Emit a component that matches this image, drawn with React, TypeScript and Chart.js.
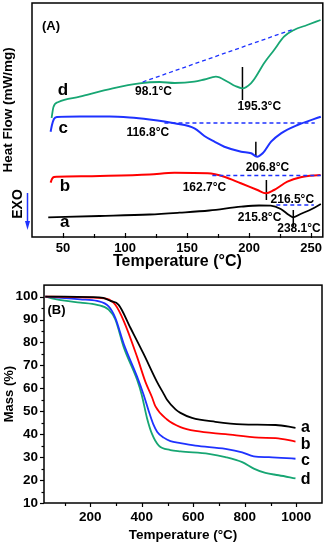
import React, { useEffect, useRef } from "react";
import { Chart, registerables } from "chart.js";
Chart.register(...registerables);

// ---------- Panel A (DSC) ----------
const dscTicks = [50, 100, 150, 200, 250];
const dscMinorTicks = [75, 125, 175, 225];

const dscA_T = [38.1, 79.6, 119.8, 143.9, 168.0, 193.7, 208.1, 217.5, 225.6, 232.2, 235.7, 241.6, 250.7, 257.9];
const dscA_HF = [19.7, 21, 22.5, 24.3, 26.5, 30.3, 31.5, 31.3, 28, 22, 19.7, 23, 28, 33];

const dscB_T = [40.0, 41.1, 42.7, 45.1, 79.6, 119.8, 139.9, 166.6, 180.0, 193.4, 206.8, 213.5, 220.2, 230.9, 241.6, 257.7];
const dscB_HF = [54.3, 58, 60, 60.3, 61, 62.5, 64.3, 63.7, 60.3, 53.7, 47, 43.7, 47, 55.3, 59.7, 62];

const dscC_T = [40.0, 41.1, 42.7, 45.1, 63.6, 87.6, 103.7, 119.8, 131.8, 139.9, 156.0, 164.0, 172.1, 180.1, 193.7, 201.7, 206.5, 211.0, 217.8, 225.8, 239.1, 257.9];
const dscC_HF = [105.3, 112, 118, 120, 120.5, 120.5, 119.5, 117.5, 115.5, 113.7, 108.7, 101, 95.3, 90.3, 85.3, 83.7, 80.3, 83.7, 95.3, 103.7, 112, 120.3];

const dscD_T = [40.8, 42.3, 46.3, 63.5, 90.1, 111.7, 127.9, 139.9, 155.9, 164.0, 173.3, 182.7, 188.9, 194.7, 201.5, 205.5, 212.1, 220.2, 228.2, 236.2, 246.9, 257.7];
const dscD_HF = [119, 130, 135, 140.3, 148.7, 153.7, 155, 154, 155.3, 157.5, 160.3, 155.3, 151, 148.7, 153.7, 160.3, 173.7, 187, 200.3, 207, 212, 217];

// baselines (dashed) : [T start, T end], [HF start, HF end]
const baseA_T = [222, 252.3];
const baseA_HF = [32, 32];
const baseB_T = [170.4, 257.9];
const baseB_HF = [61.5, 61.5];
const baseC_T = [131.8, 253];
const baseC_HF = [114, 114];
const baseD_T = [114.2, 236.2];
const baseD_HF = [155, 208];

// peak markers: temperature, [HF low, HF high]
const markA_T = 235.7;
const markA_HF = [10.3, 27];
const markB_T = 214;
const markB_HF = [37, 57];
const markC_T = 205.5;
const markC_HF = [80.3, 95.3];
const markD_T = 194.7;
const markD_HF = [137, 170];

const curveLetters = ["d", "c", "b", "a"];
const curveLetterT = [49.9, 50.1, 51.5, 51.3];
const curveLetterHF = [147, 108.7, 51, 14.3];

const tempLabels = ["98.1°C", "195.3°C", "116.8°C", "206.8°C", "162.7°C", "216.5°C", "215.8°C", "238.1°C"];
const tempLabelT = [123, 208.3, 118.4, 214.8, 164, 234.9, 208.5, 240.3];
const tempLabelHF = [145, 130, 104.3, 69.7, 49.3, 37.7, 19.7, 8.7];

// ---------- Panel B (TGA) ----------
const tgaXTicks = [200, 400, 600, 800, 1000];
const tgaXMinor = [100, 300, 500, 700, 900];
const tgaYTicks = [10, 20, 30, 40, 50, 60, 70, 80, 90, 100];
const tgaYMinor = [15, 25, 35, 45, 55, 65, 75, 85, 95];

const tgaA_T = [25, 100, 200, 250, 278, 310, 355.6, 407, 459, 485, 498, 531, 550, 595, 686, 790, 920, 997];
const tgaA_M = [100, 100, 99.8, 99.4, 98.1, 96.4, 86.4, 75, 62.8, 57.6, 55, 50.8, 49.3, 47.1, 45.4, 44.3, 44, 42.8];

const tgaB_T = [25, 100, 200, 265, 297, 330, 382, 414, 440, 453, 498, 550, 608, 725, 855, 920, 997];
const tgaB_M = [100, 99.9, 99.6, 99, 96.4, 89.3, 73.6, 62.8, 56, 52.1, 46.4, 43.1, 41.4, 40, 38.5, 38.3, 36.8];

const tgaC_T = [25, 100, 161, 226, 271, 297, 330, 382, 407, 427, 444, 460, 485, 511, 550, 608, 725, 790, 835, 894, 997];
const tgaC_M = [100, 99.3, 98.8, 98.1, 95.7, 90.7, 79.3, 65, 57.2, 50, 44.5, 41, 38.5, 37, 36.1, 35, 33.6, 32.1, 30.3, 30, 29.3];

const tgaD_T = [25, 60, 100, 161, 226, 271, 297, 330, 382, 400, 420, 440, 466, 511, 550, 660, 725, 790, 835, 880, 932, 997];
const tgaD_M = [100, 99, 98.2, 97.4, 96.4, 94.3, 90, 77.8, 63.6, 57, 47.1, 40, 35, 33.1, 32.5, 31.4, 30, 27.8, 25, 23.1, 22.1, 20.7];

const tgaLetterT = 1036;
const tgaLetterM = [42.8, 35.4, 28.6, 20.4];

const BLACK = "#000000";
const RED = "#ff0000";
const BLUE = "#1e32ff";
const GREEN = "#17a673";
const FONT = "'Liberation Sans', Arial, sans-serif";

const zip = (xs: number[], ys: number[]) => xs.map((x, i) => ({ x, y: ys[i] }));

const curve = (label: string, xs: number[], ys: number[], color: string, w = 1.8) => ({
  label,
  data: zip(xs, ys),
  borderColor: color,
  backgroundColor: color,
  borderWidth: w,
  pointRadius: 0,
  cubicInterpolationMode: "monotone" as const,
  fill: false,
});

const dashed = (xs: number[], ys: number[]) => ({
  label: "baseline",
  data: zip(xs, ys),
  borderColor: BLUE,
  borderWidth: 1.3,
  borderDash: [4, 3],
  pointRadius: 0,
  tension: 0,
  fill: false,
});

const marker = (t: number, ys: number[]) => ({
  label: "marker",
  data: [{ x: t, y: ys[0] }, { x: t, y: ys[1] }],
  borderColor: BLACK,
  borderWidth: 1.5,
  pointRadius: 0,
  tension: 0,
  fill: false,
});

function frame(ctx: CanvasRenderingContext2D, a: any) {
  ctx.save();
  ctx.strokeStyle = BLACK;
  ctx.lineWidth = 1.5;
  ctx.strokeRect(a.left, a.top, a.right - a.left, a.bottom - a.top);
  ctx.restore();
}

const decoA = {
  id: "decoA",
  afterDraw(chart: any) {
    const { ctx, chartArea: a, scales } = chart;
    const xs = scales.x, ys = scales.y;
    frame(ctx, a);
    ctx.save();
    ctx.strokeStyle = BLACK;
    ctx.lineWidth = 1.2;
    const tick = (v: number, len: number) => {
      const px = Math.round(xs.getPixelForValue(v)) + 0.5;
      ctx.beginPath();
      ctx.moveTo(px, a.bottom + 1);
      ctx.lineTo(px, a.bottom - len);
      ctx.stroke();
    };
    dscTicks.forEach((v) => tick(v, 4));
    dscMinorTicks.forEach((v) => tick(v, 3));
    ctx.fillStyle = BLACK;
    ctx.textAlign = "center";
    ctx.textBaseline = "middle";
    ctx.font = `bold 17px ${FONT}`;
    curveLetters.forEach((s, i) => ctx.fillText(s, xs.getPixelForValue(curveLetterT[i]), ys.getPixelForValue(curveLetterHF[i])));
    ctx.font = `bold 12px ${FONT}`;
    tempLabels.forEach((s, i) => ctx.fillText(s, xs.getPixelForValue(tempLabelT[i]), ys.getPixelForValue(tempLabelHF[i])));
    ctx.font = `bold 13px ${FONT}`;
    ctx.fillText("(A)", a.left + 19, a.top + 23);
    // y title
    ctx.save();
    ctx.translate(8, (a.top + a.bottom) / 2 - 10);
    ctx.rotate(-Math.PI / 2);
    ctx.font = `bold 13.5px ${FONT}`;
    ctx.fillText("Heat Flow (mW/mg)", 0, 0);
    ctx.restore();
    // EXO + arrow
    ctx.save();
    ctx.translate(18.5, a.bottom - 33);
    ctx.rotate(-Math.PI / 2);
    ctx.font = `bold 14px ${FONT}`;
    ctx.fillText("EXO", 0, 0);
    ctx.restore();
    const ax = a.left - 4.5;
    ctx.strokeStyle = BLUE;
    ctx.fillStyle = BLUE;
    ctx.lineWidth = 1.5;
    ctx.beginPath();
    ctx.moveTo(ax, a.bottom - 44);
    ctx.lineTo(ax, a.bottom - 14);
    ctx.stroke();
    ctx.beginPath();
    ctx.moveTo(ax - 2.5, a.bottom - 16);
    ctx.lineTo(ax + 2.5, a.bottom - 16);
    ctx.lineTo(ax, a.bottom - 7);
    ctx.closePath();
    ctx.fill();
    ctx.restore();
  },
};

const decoB = {
  id: "decoB",
  afterDraw(chart: any) {
    const { ctx, chartArea: a, scales } = chart;
    const xs = scales.x, ys = scales.y;
    frame(ctx, a);
    ctx.save();
    ctx.strokeStyle = BLACK;
    ctx.lineWidth = 1.2;
    const xt = (v: number, len: number) => {
      const px = Math.round(xs.getPixelForValue(v)) + 0.5;
      ctx.beginPath();
      ctx.moveTo(px, a.bottom);
      ctx.lineTo(px, a.bottom + len);
      ctx.stroke();
    };
    const yt = (v: number, len: number) => {
      const py = Math.round(ys.getPixelForValue(v)) + 0.5;
      ctx.beginPath();
      ctx.moveTo(a.left, py);
      ctx.lineTo(a.left - len, py);
      ctx.stroke();
    };
    tgaXTicks.forEach((v) => xt(v, 4));
    tgaXMinor.forEach((v) => xt(v, 3));
    tgaYTicks.forEach((v) => yt(v, 4));
    tgaYMinor.forEach((v) => yt(v, 2.5));
    ctx.fillStyle = BLACK;
    ctx.textAlign = "center";
    ctx.textBaseline = "middle";
    ctx.font = `bold 16px ${FONT}`;
    ["a", "b", "c", "d"].forEach((s, i) => ctx.fillText(s, xs.getPixelForValue(tgaLetterT), ys.getPixelForValue(tgaLetterM[i])));
    ctx.font = `bold 13px ${FONT}`;
    ctx.fillText("(B)", a.left + 12.5, a.top + 25);
    ctx.restore();
  },
};

const plain = (v: any) => String(v);

export default function App() {
  const refA = useRef<HTMLCanvasElement>(null);
  const refB = useRef<HTMLCanvasElement>(null);

  useEffect(() => {
    Chart.defaults.font.family = FONT;
    Chart.defaults.color = BLACK;

    const chartA = new Chart(refA.current as HTMLCanvasElement, {
      type: "line",
      data: {
        datasets: [
          dashed(baseD_T, baseD_HF),
          dashed(baseC_T, baseC_HF),
          dashed(baseB_T, baseB_HF),
          dashed(baseA_T, baseA_HF),
          curve("d", dscD_T, dscD_HF, GREEN, 1.8),
          curve("c", dscC_T, dscC_HF, BLUE, 2),
          curve("b", dscB_T, dscB_HF, RED, 2),
          curve("a", dscA_T, dscA_HF, BLACK, 1.8),
          marker(markD_T, markD_HF),
          marker(markC_T, markC_HF),
          marker(markB_T, markB_HF),
          marker(markA_T, markA_HF),
        ] as any,
      },
      options: {
        responsive: false,
        animation: false,
        layout: { padding: { top: 3, right: 3, left: 0, bottom: 0 } },
        plugins: { legend: { display: false }, tooltip: { enabled: false } },
        scales: {
          x: {
            type: "linear",
            min: 25,
            max: 259.5,
            grid: { display: false, drawTicks: false },
            border: { display: false },
            afterBuildTicks: (s: any) => { s.ticks = dscTicks.map((v) => ({ value: v })); },
            ticks: { font: { size: 13, weight: "bold" }, padding: 4, color: BLACK, maxRotation: 0, callback: plain },
            title: { display: true, text: "Temperature (°C)", font: { size: 16, weight: "bold" }, padding: 0, color: BLACK },
            afterFit: (s: any) => { s.height = 34; },
          },
          y: {
            type: "linear",
            min: 0,
            max: 234,
            grid: { display: false, drawTicks: false },
            border: { display: false },
            ticks: { display: false },
            afterFit: (s: any) => { s.width = 32; },
          },
        },
      } as any,
      plugins: [decoA],
    });

    const chartB = new Chart(refB.current as HTMLCanvasElement, {
      type: "line",
      data: {
        datasets: [
          curve("a", tgaA_T, tgaA_M, BLACK),
          curve("b", tgaB_T, tgaB_M, RED),
          curve("c", tgaC_T, tgaC_M, BLUE),
          curve("d", tgaD_T, tgaD_M, GREEN),
        ] as any,
      },
      options: {
        responsive: false,
        animation: false,
        layout: { padding: { top: 10, right: 4, left: 0, bottom: 0 } },
        plugins: { legend: { display: false }, tooltip: { enabled: false } },
        scales: {
          x: {
            type: "linear",
            min: 20,
            max: 1100,
            grid: { display: false, drawTicks: false },
            border: { display: false },
            afterBuildTicks: (s: any) => { s.ticks = tgaXTicks.map((v) => ({ value: v })); },
            ticks: { font: { size: 13.5, weight: "bold" }, padding: 6, color: BLACK, maxRotation: 0, callback: plain },
            title: { display: true, text: "Temperature (°C)", font: { size: 13.5, weight: "bold" }, padding: 0, color: BLACK },
            afterFit: (s: any) => { s.height = 40; },
          },
          y: {
            type: "linear",
            min: 10,
            max: 105,
            grid: { display: false, drawTicks: false },
            border: { display: false },
            afterBuildTicks: (s: any) => { s.ticks = tgaYTicks.map((v) => ({ value: v })); },
            ticks: { font: { size: 13.5, weight: "bold" }, padding: 6, color: BLACK, callback: plain },
            title: { display: true, text: "Mass (%)", font: { size: 13, weight: "bold" }, padding: { top: 2, bottom: 0 }, color: BLACK },
            afterFit: (s: any) => { s.width = 44; },
          },
        },
      } as any,
      plugins: [decoB],
    });

    return () => {
      chartA.destroy();
      chartB.destroy();
    };
  }, []);

  return (
    <div style={{ position: "absolute", left: 0, top: 0, width: 326, height: 543, background: "#ffffff" }}>
      <canvas ref={refA} width={326} height={271} style={{ position: "absolute", left: 0, top: 0, width: 326, height: 271 }} />
      <canvas ref={refB} width={326} height={272} style={{ position: "absolute", left: 0, top: 271, width: 326, height: 272 }} />
    </div>
  );
}
